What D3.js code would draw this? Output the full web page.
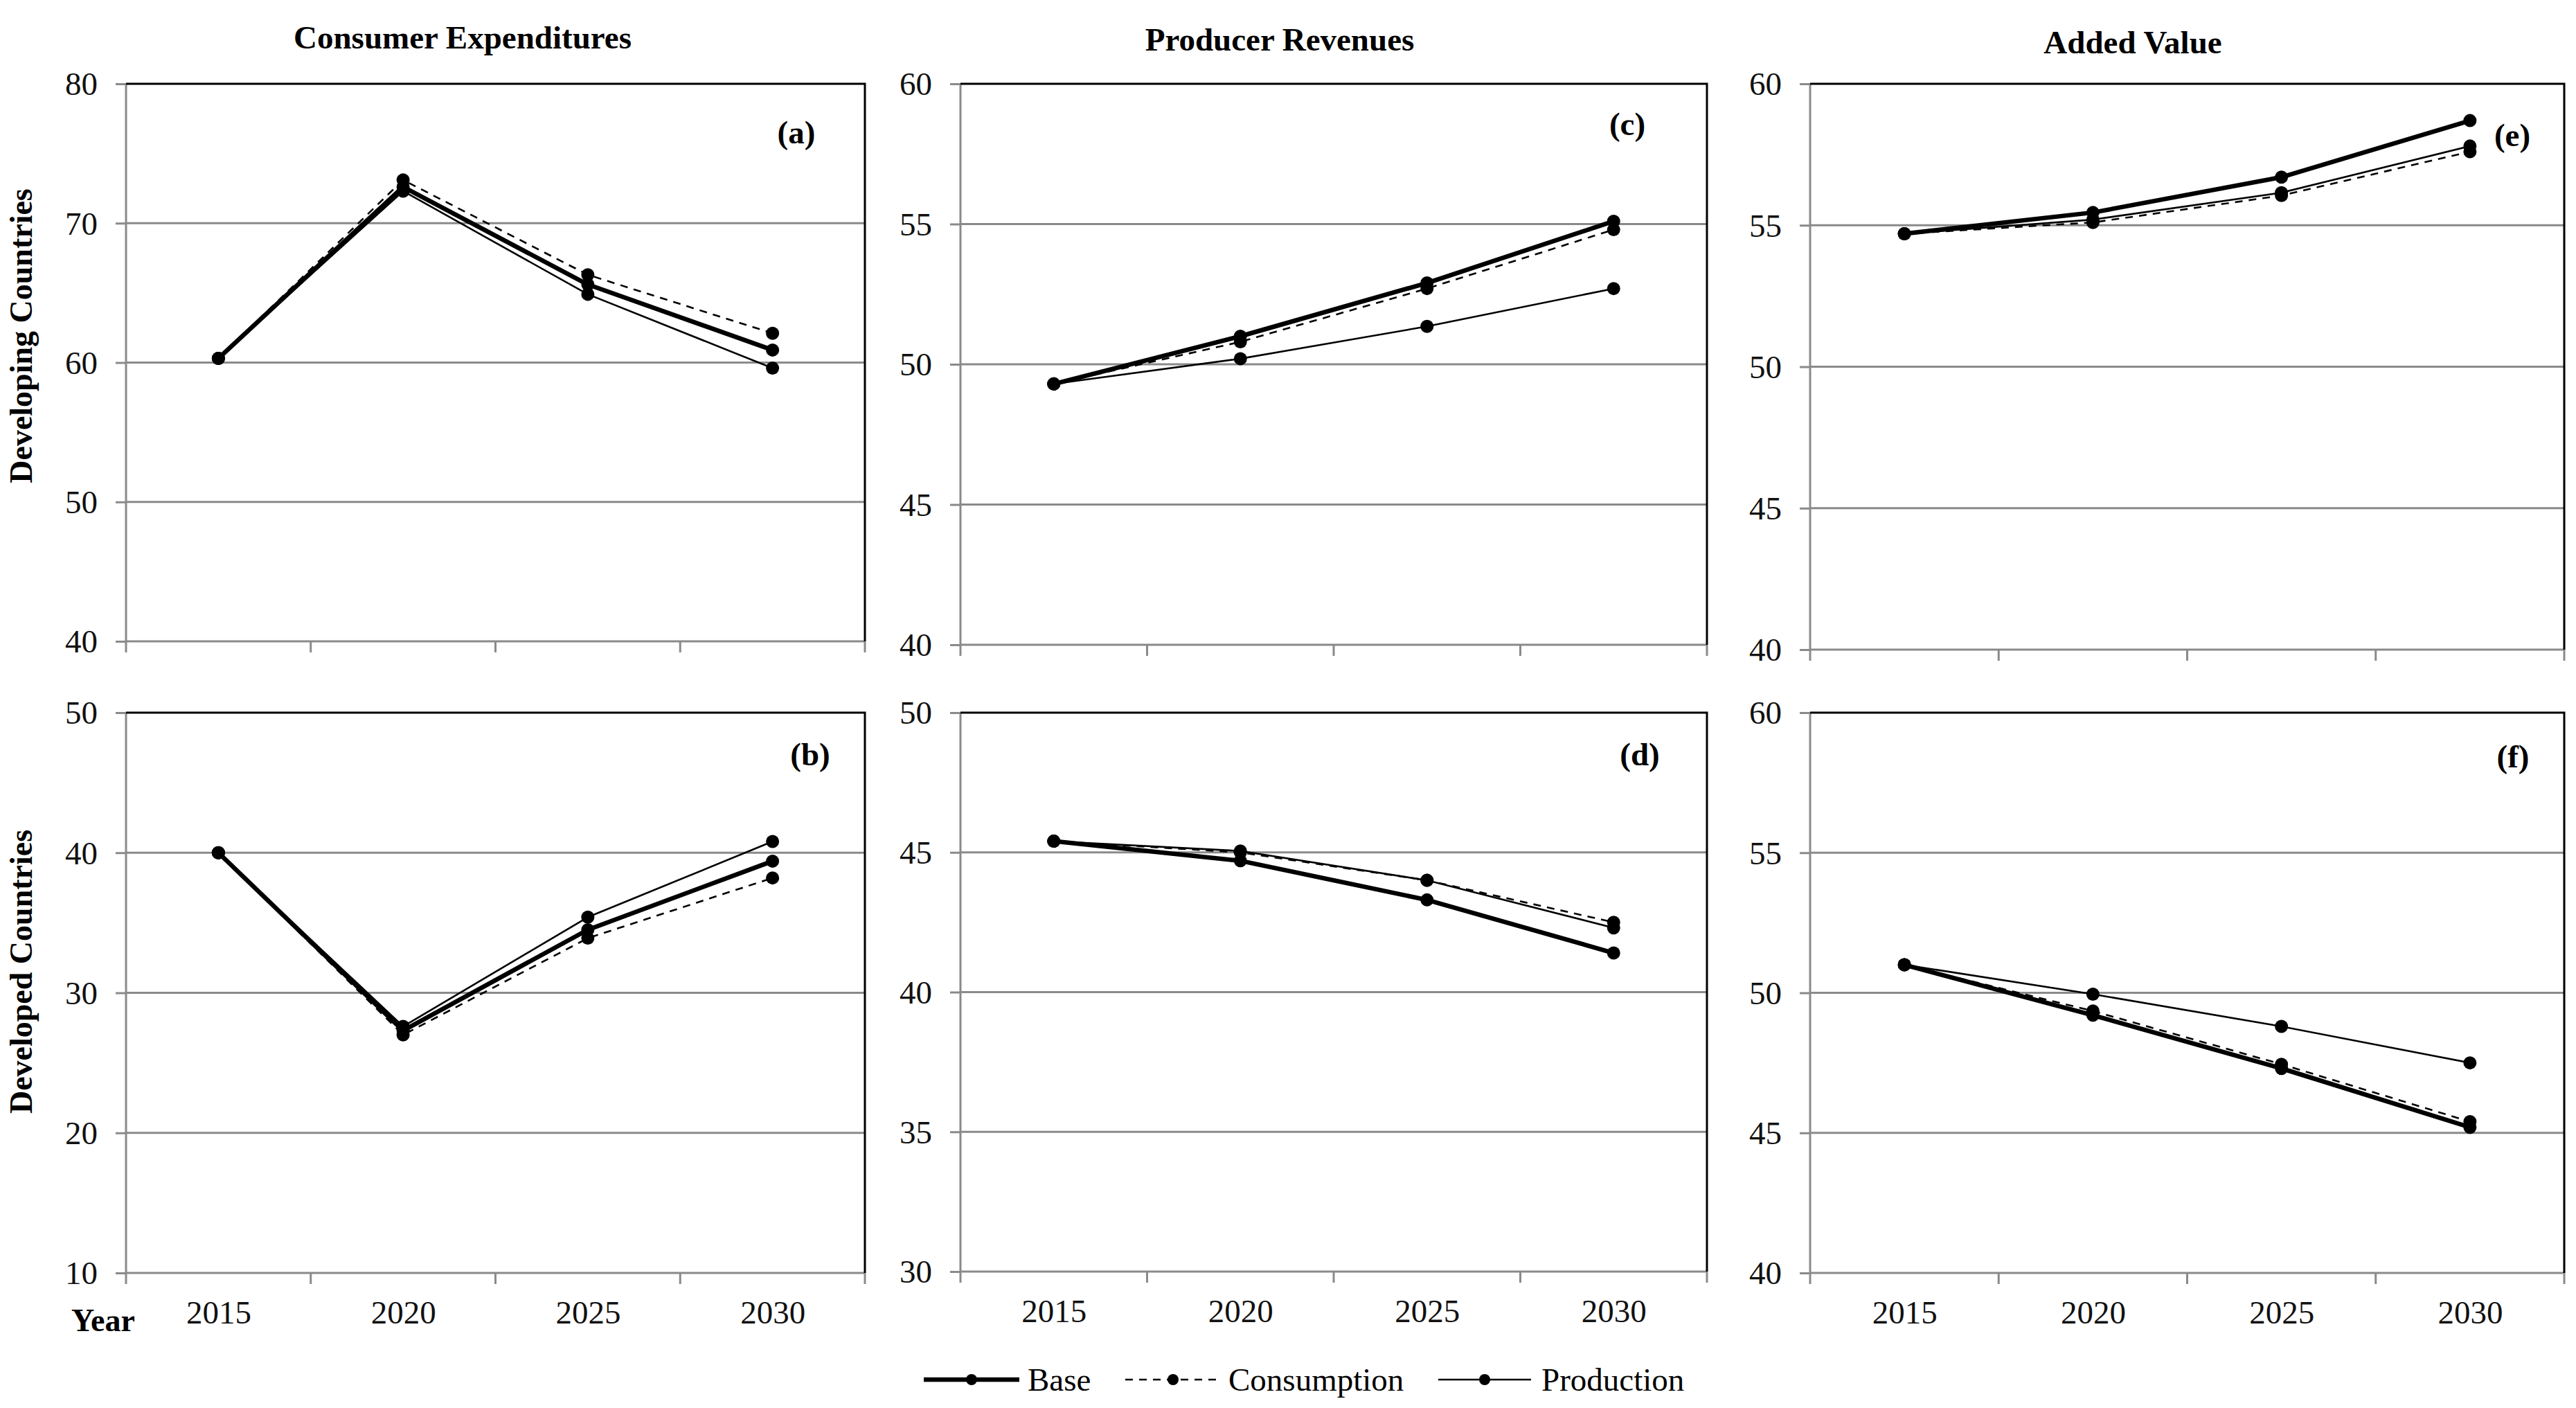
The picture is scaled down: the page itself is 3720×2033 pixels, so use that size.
<!DOCTYPE html>
<html>
<head>
<meta charset="utf-8">
<script src="https://cdn.jsdelivr.net/npm/d3@7"></script>
<style>
  html, body { margin: 0; padding: 0; background: #fff; }
  svg { display: block; font-family: "Liberation Serif", "Times New Roman", serif; }
</style>
</head>
<body>
<div id="chart"></div>
<script>
// years and scenarios
const years = [2015, 2020, 2025, 2030];
const scenarios = ['Base', 'Consumption', 'Production'];

// Consumer Expenditures
const consumerDevBase = [60.3, 72.6, 65.6, 60.9];
const consumerDevCons = [60.3, 73.1, 66.3, 62.1];
const consumerDevProd = [60.3, 72.3, 64.9, 59.6];
const consumerDedBase = [40.0, 27.3, 34.5, 39.4];
const consumerDedCons = [40.0, 27.0, 33.9, 38.2];
const consumerDedProd = [40.0, 27.6, 35.4, 40.8];

// Producer Revenues
const producerDevBase = [49.3, 51.0, 52.9, 55.1];
const producerDevCons = [49.3, 50.8, 52.7, 54.8];
const producerDevProd = [49.3, 50.2, 51.35, 52.7];
const producerDedBase = [45.4, 44.7, 43.3, 41.4];
const producerDedCons = [45.4, 45.0, 44.0, 42.5];
const producerDedProd = [45.4, 45.05, 44.0, 42.3];

// Added Value
const addedDevBase = [54.7, 55.45, 56.7, 58.7];
const addedDevCons = [54.7, 55.1, 56.05, 57.6];
const addedDevProd = [54.7, 55.2, 56.15, 57.8];
const addedDedBase = [51.0, 49.2, 47.3, 45.2];
const addedDedCons = [51.0, 49.35, 47.45, 45.4];
const addedDedProd = [51.0, 49.95, 48.8, 47.5];

// tick labels / axis ranges
const columnTitles = ['Consumer Expenditures', 'Producer Revenues', 'Added Value'];
const rowTitles = ['Developing Countries', 'Developed Countries'];
const panelTags = ['(a)', '(b)', '(c)', '(d)', '(e)', '(f)'];
const yDomains = [[40, 80], [10, 50], [40, 60], [30, 50], [40, 60], [40, 60]];
const yTickSteps = [10, 10, 5, 5, 5, 5];

const W = 3720, H = 2033;

// 画布布局 (像素, 对照原图量出来的)
const cols = [
  { left: 182, right: 1249, titleX: 668, titleY: 70 },
  { left: 1387, right: 2465, titleX: 1848, titleY: 73 },
  { left: 2614, right: 3703, titleX: 3080, titleY: 77 }
];
const rows = [
  { top: 121, bottoms: [926, 931, 938] },
  { top: 1029, bottoms: [1838, 1836, 1838] }
];
// 小标签 (a)..(f) 的位置: [距右边, 基线y]
const tagPos = [[99, 207], [79, 1105], [115, 195], [97, 1105], [75, 211], [74, 1108]];

// each series style
const styles = {
  Base:        { width: 6.5, dash: null },
  Consumption: { width: 2.6, dash: '11,9' },
  Production:  { width: 2.6, dash: null }
};

const panels = [
  { series: { Base: consumerDevBase, Consumption: consumerDevCons, Production: consumerDevProd } },
  { series: { Base: consumerDedBase, Consumption: consumerDedCons, Production: consumerDedProd } },
  { series: { Base: producerDevBase, Consumption: producerDevCons, Production: producerDevProd } },
  { series: { Base: producerDedBase, Consumption: producerDedCons, Production: producerDedProd } },
  { series: { Base: addedDevBase, Consumption: addedDevCons, Production: addedDevProd } },
  { series: { Base: addedDedBase, Consumption: addedDedCons, Production: addedDedProd } }
];

const gridColor = '#8a8a8a';
const fontSize = 47;
const serif = '"Liberation Serif", "Times New Roman", serif';

const svg = d3.select('#chart')
  .append('svg')
  .attr('width', W)
  .attr('height', H)
  .attr('viewBox', `0 0 ${W} ${H}`);

panels.forEach((p, i) => {
  const ci = Math.floor(i / 2), ri = i % 2;
  const col = cols[ci], row = rows[ri];
  const top = row.top, bottom = row.bottoms[ci];
  const left = col.left, right = col.right;

  const xBand = d3.scaleBand().domain(years).range([left, right]);
  const x = d3.scalePoint().domain(years).range([left, right]).padding(0.5);
  const y = d3.scaleLinear().domain(yDomains[i]).range([bottom, top]);
  const [y0, y1] = yDomains[i];
  const yTicks = d3.range(y0, y1 + 0.001, yTickSteps[i]);

  const g = svg.append('g').attr('class', 'panel panel-' + i);

  // gridlines
  g.selectAll('line.grid').data(yTicks.slice(1, -1))
    .join('line')
    .attr('class', 'grid')
    .attr('x1', left).attr('x2', right)
    .attr('y1', d => y(d)).attr('y2', d => y(d))
    .attr('stroke', gridColor)
    .attr('stroke-width', 3);

  // y axis
  const yAxis = g.append('g')
    .attr('transform', `translate(${left},0)`)
    .call(d3.axisLeft(y).tickValues(yTicks).tickSize(15).tickPadding(26).tickFormat(d3.format('d')))
    .attr('font-family', serif);
  yAxis.select('.domain').remove();
  yAxis.selectAll('.tick line').attr('stroke', gridColor).attr('stroke-width', 3);
  yAxis.selectAll('.tick text')
    .attr('font-size', fontSize)
    .attr('fill', '#111')
    .attr('dy', '0.34em');

  // x axis: ticks at band edges
  const edges = years.map(d => xBand(d)).concat([right]);
  g.selectAll('line.xtick').data(edges)
    .join('line')
    .attr('class', 'xtick')
    .attr('x1', d => d).attr('x2', d => d)
    .attr('y1', bottom).attr('y2', bottom + 16)
    .attr('stroke', gridColor)
    .attr('stroke-width', 3);

  if (ri === 1) {
    const xAxis = g.append('g')
      .attr('transform', `translate(0,${bottom})`)
      .call(d3.axisBottom(x).tickSize(0).tickPadding(40).tickFormat(d3.format('d')))
      .attr('font-family', serif);
    xAxis.select('.domain').remove();
    xAxis.selectAll('.tick text')
      .attr('font-size', fontSize)
      .attr('fill', '#111');
  }

  // axis lines (left, bottom gray) + frame (top, right black)
  g.append('line')
    .attr('x1', left).attr('x2', left).attr('y1', top).attr('y2', bottom + 1.5)
    .attr('stroke', gridColor).attr('stroke-width', 3);
  g.append('line')
    .attr('x1', left).attr('x2', right).attr('y1', bottom).attr('y2', bottom)
    .attr('stroke', gridColor).attr('stroke-width', 3);
  g.append('path')
    .attr('d', `M${left},${top}H${right}V${bottom}`)
    .attr('fill', 'none')
    .attr('stroke', '#000')
    .attr('stroke-width', 3);

  // series lines, base drawn last so it sits on top
  const line = d3.line().x((d, k) => x(years[k])).y(d => y(d));
  ['Production', 'Consumption', 'Base'].forEach(name => {
    const vals = p.series[name];
    const st = styles[name];
    g.append('path')
      .datum(vals)
      .attr('d', line)
      .attr('fill', 'none')
      .attr('stroke', '#000')
      .attr('stroke-width', st.width)
      .attr('stroke-dasharray', st.dash)
      .attr('stroke-linejoin', 'round');
    g.selectAll(null).data(vals)
      .join('circle')
      .attr('cx', (d, k) => x(years[k]))
      .attr('cy', d => y(d))
      .attr('r', 9.5)
      .attr('fill', '#000');
  });

  // panel tag
  g.append('text')
    .attr('x', right - tagPos[i][0])
    .attr('y', tagPos[i][1])
    .attr('text-anchor', 'middle')
    .attr('font-size', fontSize)
    .attr('font-weight', 'bold')
    .text(panelTags[i]);
});

// column titles
cols.forEach((c, ci) => {
  svg.append('text')
    .attr('x', c.titleX)
    .attr('y', c.titleY)
    .attr('text-anchor', 'middle')
    .attr('font-size', 47)
    .attr('font-weight', 'bold')
    .text(columnTitles[ci]);
});

// row titles
const rowCenters = [485, 1403];
rowTitles.forEach((t, ri) => {
  svg.append('text')
    .attr('transform', `translate(${46},${rowCenters[ri]}) rotate(-90)`)
    .attr('text-anchor', 'middle')
    .attr('font-size', 46)
    .attr('font-weight', 'bold')
    .text(t);
});

// "Year"
svg.append('text')
  .attr('x', 103)
  .attr('y', 1922)
  .attr('font-size', 46)
  .attr('font-weight', 'bold')
  .text('Year');

// legend
const legendY = 1992;
const legendItems = [
  { name: 'Base', x1: 1334, x2: 1472, tx: 1484 },
  { name: 'Consumption', x1: 1625, x2: 1763, tx: 1774 },
  { name: 'Production', x1: 2077, x2: 2211, tx: 2226 }
];
const legend = svg.append('g').attr('class', 'legend');
legendItems.forEach(it => {
  const st = styles[it.name];
  legend.append('line')
    .attr('x1', it.x1).attr('x2', it.x2)
    .attr('y1', legendY).attr('y2', legendY)
    .attr('stroke', '#000')
    .attr('stroke-width', st.width)
    .attr('stroke-dasharray', st.dash);
  legend.append('circle')
    .attr('cx', (it.x1 + it.x2) / 2)
    .attr('cy', legendY)
    .attr('r', 8)
    .attr('fill', '#000');
  legend.append('text')
    .attr('x', it.tx)
    .attr('y', legendY + 16)
    .attr('font-size', fontSize)
    .text(it.name);
});
</script>
</body>
</html>
